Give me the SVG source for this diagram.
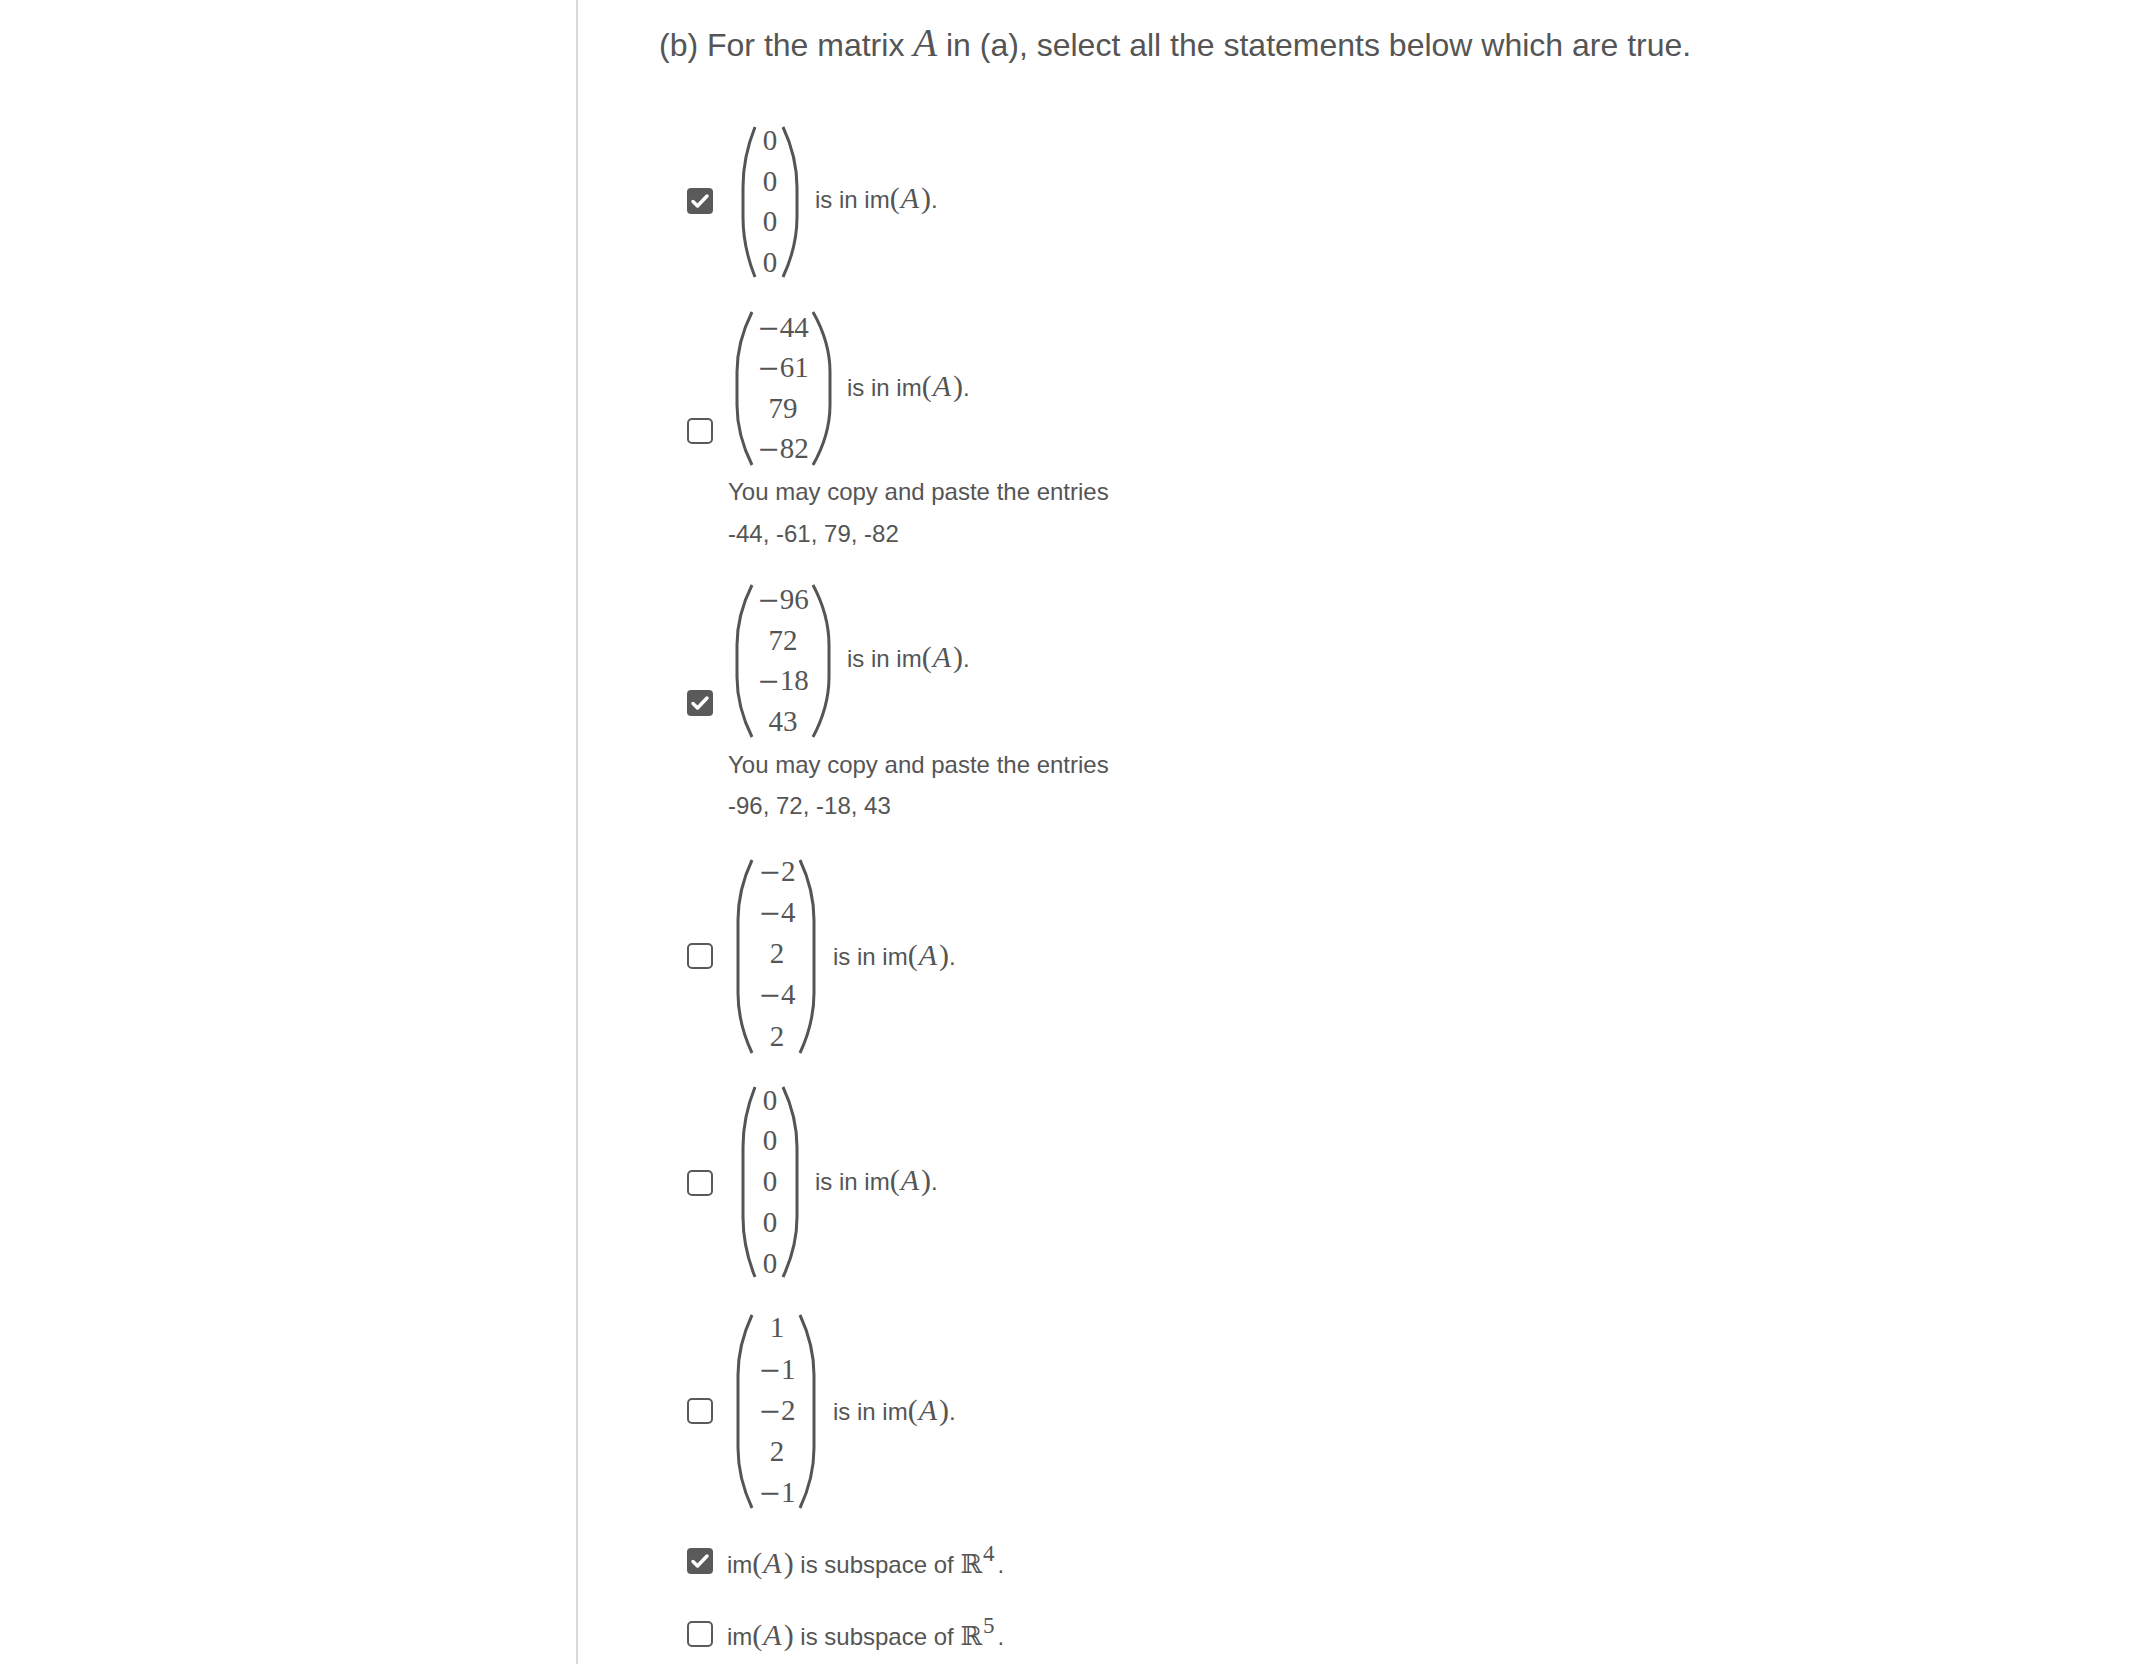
<svg xmlns="http://www.w3.org/2000/svg" width="2132" height="1664" viewBox="0 0 2132 1664">
<style>
.t{font-family:"Liberation Sans",Arial,sans-serif;font-size:24px;fill:#555}
.title{font-size:32px}
.ms{font-family:"Liberation Serif","DejaVu Serif",serif;font-size:30px}
.mi{font-style:italic}
.m{font-family:"Liberation Serif","DejaVu Serif",serif;font-size:29px;fill:#555;text-anchor:middle}
.mn{font-family:"DejaVu Serif",serif;font-size:27px}
.p{fill:none;stroke:#555;stroke-width:3}
.cb{fill:#fff;stroke:#5a5a5a;stroke-width:2}
.cbc{fill:#5a5a5a}
.ck{fill:none;stroke:#fff;stroke-width:3.5;stroke-linecap:round;stroke-linejoin:round}
.bb{font-family:"DejaVu Serif",serif;font-size:26px}
.sup{font-family:"Liberation Serif","DejaVu Serif",serif;font-size:23px}
</style>
<defs>
<g id="boxOn"><rect class="cbc" x="0" y="0" width="26" height="26" rx="4"/><path class="ck" d="M6 13.5 L10.5 18 L20 8"/></g>
<g id="boxOff"><rect class="cb" x="1" y="1" width="24" height="24" rx="4"/></g>
</defs>
<rect x="0" y="0" width="2132" height="1664" fill="#fff"/>
<rect x="576" y="0" width="2" height="1664" fill="#d9d9d9"/>

<g id="title">
<text class="t title" x="659" y="56">(b) For the matrix <tspan class="ms mi" style="font-size:39px">A</tspan> in (a), select all the statements below which are true.</text>
</g>

<g id="item1">
<use href="#boxOn" x="687" y="188"/>
<path class="p" d="M755 127 Q743 157 743 187 L743 217 Q743 247 755 277"/>
<text class="m" x="770" y="150">0</text>
<text class="m" x="770" y="191">0</text>
<text class="m" x="770" y="231">0</text>
<text class="m" x="770" y="272">0</text>
<path class="p" d="M783 127 Q797 157 797 187 L797 217 Q797 247 783 277"/>
<text class="t" x="815" y="208">is in im<tspan class="ms">(</tspan><tspan class="ms mi" dx="1">A</tspan><tspan class="ms" dx="2">)</tspan>.</text>
</g>

<g id="item2">
<use href="#boxOff" x="687" y="418"/>
<path class="p" d="M752 312 Q737 342 737 372 L737 405 Q737 435 752 465"/>
<text class="m" x="783" y="337"><tspan class="mn">−</tspan>44</text>
<text class="m" x="783" y="377"><tspan class="mn">−</tspan>61</text>
<text class="m" x="783" y="418">79</text>
<text class="m" x="783" y="458"><tspan class="mn">−</tspan>82</text>
<path class="p" d="M813 312 Q830 342 830 372 L830 405 Q830 435 813 465"/>
<text class="t" x="847" y="396">is in im<tspan class="ms">(</tspan><tspan class="ms mi" dx="1">A</tspan><tspan class="ms" dx="2">)</tspan>.</text>
<text class="t" x="728" y="500">You may copy and paste the entries</text>
<text class="t" x="728" y="542">-44, -61, 79, -82</text>
</g>

<g id="item3">
<use href="#boxOn" x="687" y="690"/>
<path class="p" d="M752 585 Q737 615 737 645 L737 677 Q737 707 752 737"/>
<text class="m" x="783" y="609"><tspan class="mn">−</tspan>96</text>
<text class="m" x="783" y="650">72</text>
<text class="m" x="783" y="690"><tspan class="mn">−</tspan>18</text>
<text class="m" x="783" y="731">43</text>
<path class="p" d="M813 585 Q829 615 829 645 L829 677 Q829 707 813 737"/>
<text class="t" x="847" y="667">is in im<tspan class="ms">(</tspan><tspan class="ms mi" dx="1">A</tspan><tspan class="ms" dx="2">)</tspan>.</text>
<text class="t" x="728" y="773">You may copy and paste the entries</text>
<text class="t" x="728" y="814">-96, 72, -18, 43</text>
</g>

<g id="item4">
<use href="#boxOff" x="687" y="943"/>
<path class="p" d="M752 860 Q738 890 738 920 L738 993 Q738 1023 752 1053"/>
<text class="m" x="777" y="881"><tspan class="mn">−</tspan>2</text>
<text class="m" x="777" y="922"><tspan class="mn">−</tspan>4</text>
<text class="m" x="777" y="963">2</text>
<text class="m" x="777" y="1004"><tspan class="mn">−</tspan>4</text>
<text class="m" x="777" y="1046">2</text>
<path class="p" d="M800 860 Q814 890 814 920 L814 993 Q814 1023 800 1053"/>
<text class="t" x="833" y="965">is in im<tspan class="ms">(</tspan><tspan class="ms mi" dx="1">A</tspan><tspan class="ms" dx="2">)</tspan>.</text>
</g>

<g id="item5">
<use href="#boxOff" x="687" y="1170"/>
<path class="p" d="M755 1087 Q743 1117 743 1147 L743 1217 Q743 1247 755 1277"/>
<text class="m" x="770" y="1110">0</text>
<text class="m" x="770" y="1150">0</text>
<text class="m" x="770" y="1191">0</text>
<text class="m" x="770" y="1232">0</text>
<text class="m" x="770" y="1273">0</text>
<path class="p" d="M783 1087 Q797 1117 797 1147 L797 1217 Q797 1247 783 1277"/>
<text class="t" x="815" y="1190">is in im<tspan class="ms">(</tspan><tspan class="ms mi" dx="1">A</tspan><tspan class="ms" dx="2">)</tspan>.</text>
</g>

<g id="item6">
<use href="#boxOff" x="687" y="1398"/>
<path class="p" d="M752 1315 Q738 1345 738 1375 L738 1448 Q738 1478 752 1508"/>
<text class="m" x="777" y="1337">1</text>
<text class="m" x="777" y="1379"><tspan class="mn">−</tspan>1</text>
<text class="m" x="777" y="1420"><tspan class="mn">−</tspan>2</text>
<text class="m" x="777" y="1461">2</text>
<text class="m" x="777" y="1502"><tspan class="mn">−</tspan>1</text>
<path class="p" d="M800 1315 Q814 1345 814 1375 L814 1448 Q814 1478 800 1508"/>
<text class="t" x="833" y="1420">is in im<tspan class="ms">(</tspan><tspan class="ms mi" dx="1">A</tspan><tspan class="ms" dx="2">)</tspan>.</text>
</g>

<g id="item7">
<use href="#boxOn" x="687" y="1548"/>
<text class="t" x="727" y="1573">im<tspan class="ms">(</tspan><tspan class="ms mi" dx="1">A</tspan><tspan class="ms" dx="2">)</tspan> is subspace of <tspan class="bb">ℝ</tspan><tspan class="sup" dx="1" dy="-12">4</tspan><tspan dx="3" dy="12">.</tspan></text>
</g>

<g id="item8">
<use href="#boxOff" x="687" y="1621"/>
<text class="t" x="727" y="1645">im<tspan class="ms">(</tspan><tspan class="ms mi" dx="1">A</tspan><tspan class="ms" dx="2">)</tspan> is subspace of <tspan class="bb">ℝ</tspan><tspan class="sup" dx="1" dy="-12">5</tspan><tspan dx="3" dy="12">.</tspan></text>
</g>

<g id="connectors"></g>
</svg>
